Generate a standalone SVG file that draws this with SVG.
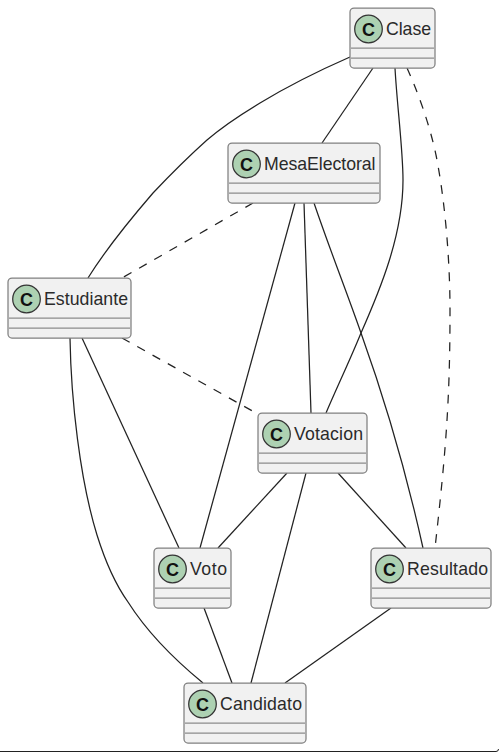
<svg xmlns="http://www.w3.org/2000/svg" width="499" height="753" viewBox="0 0 499 753">
<style>
.box{fill:#f1f1f1;stroke:#808080;stroke-width:1.25}
.sep{stroke:#8c8c8c;stroke-width:1.25}
.circ{fill:#add1b2;stroke:#333;stroke-width:1.25}
.c{font:bold 18px "Liberation Sans",Arial,sans-serif;fill:#111;text-anchor:middle}
.t{font:17.7px "Liberation Sans",Arial,sans-serif;fill:#2a2a2a}
.l{fill:none;stroke:#222;stroke-width:1.25}
.d{stroke-dasharray:8.750 8.750}
</style>
<rect width="499" height="753" fill="#fff"/>
<path d="M0 751.500H496Q498.500 751.500 498.500 749" fill="none" stroke="#222" stroke-width="1"/>
<g id="connectors">
<path class="l" d="M350 57C318 71 288 86 260 103C240 115 222 127 207 140C188 157 170 175 153 193C128 222 106 249 88 278"/>
<path class="l" d="M373 68L322 143"/>
<path class="l" d="M395 68C397 105 403 150 403 180C403 235 380 290 361 333C350 360 338 385 326 413"/>
<path class="l d" d="M407 68C417 90 429 122 436 155C445 200 450 260 450 310C450 400 446 450 435 548"/>
<path class="l d" d="M253 203L122 278"/>
<path class="l" d="M295 203L200 548"/>
<path class="l" d="M304 203L311 413"/>
<path class="l" d="M314 203C330 250 346 290 361 333C385 400 408 480 423 548"/>
<path class="l d" d="M122 338L256 413"/>
<path class="l" d="M82 338L179 548"/>
<path class="l" d="M70 338C71 400 80 480 97 535C107 567 118 588 128 602C147 632 175 660 203 683"/>
<path class="l" d="M287 473L218 548"/>
<path class="l" d="M338 473L406 548"/>
<path class="l" d="M306 473L251 683"/>
<path class="l" d="M204 608L232 683"/>
<path class="l" d="M391 608L285 683"/>
</g>
<g id="Clase"><rect class="box" x="350" y="8" width="85" height="60" rx="4"/><path class="sep" d="M351 48H434M351 58H434"/><circle class="circ" cx="368.500" cy="29" r="13.800"/><text class="c" x="368.500" y="35.500">C</text><text class="t" x="386" y="35" textLength="45">Clase</text></g>
<g id="MesaElectoral"><rect class="box" x="228" y="143" width="152" height="60" rx="4"/><path class="sep" d="M229 183H379M229 193H379"/><circle class="circ" cx="246.500" cy="164" r="13.800"/><text class="c" x="246.500" y="170.500">C</text><text class="t" x="264" y="170" textLength="111.500">MesaElectoral</text></g>
<g id="Estudiante"><rect class="box" x="8" y="278" width="123" height="60" rx="4"/><path class="sep" d="M9 318H130M9 328H130"/><circle class="circ" cx="26.500" cy="299" r="13.800"/><text class="c" x="26.500" y="305.500">C</text><text class="t" x="44" y="305" textLength="84">Estudiante</text></g>
<g id="Votacion"><rect class="box" x="258" y="413" width="109" height="60" rx="4"/><path class="sep" d="M259 453H366M259 463H366"/><circle class="circ" cx="276.500" cy="434" r="13.800"/><text class="c" x="276.500" y="440.500">C</text><text class="t" x="294" y="440" textLength="69">Votacion</text></g>
<g id="Voto"><rect class="box" x="154" y="548" width="77" height="60" rx="4"/><path class="sep" d="M155 588H230M155 598H230"/><circle class="circ" cx="172.500" cy="569" r="13.800"/><text class="c" x="172.500" y="575.500">C</text><text class="t" x="190" y="575" textLength="37">Voto</text></g>
<g id="Resultado"><rect class="box" x="371" y="548" width="120" height="60" rx="4"/><path class="sep" d="M372 588H490M372 598H490"/><circle class="circ" cx="389.500" cy="569" r="13.800"/><text class="c" x="389.500" y="575.500">C</text><text class="t" x="407" y="575" textLength="81">Resultado</text></g>
<g id="Candidato"><rect class="box" x="184" y="683" width="122" height="60" rx="4"/><path class="sep" d="M185 723H305M185 733H305"/><circle class="circ" cx="202.500" cy="704" r="13.800"/><text class="c" x="202.500" y="710.500">C</text><text class="t" x="220" y="710" textLength="82">Candidato</text></g>
</svg>
